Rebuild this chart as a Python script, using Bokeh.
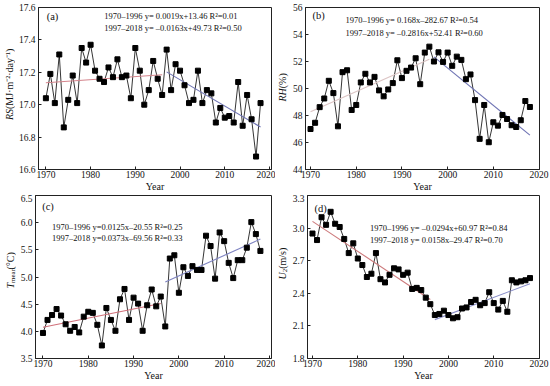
import numpy as np
from bokeh.plotting import figure
from bokeh.layouts import column, row
from bokeh.models import Range1d, FixedTicker, PrintfTickFormatter, Label
from bokeh.core.properties import value
from bokeh.embed import file_html
from bokeh.resources import INLINE

# ---------------- data ----------------
years = list(range(1970, 2019))
split_year = 1997

rs = [17.04, 17.19, 17.01, 17.31, 16.86, 17.03, 17.18, 17.01, 17.35, 17.26,
      17.37, 17.21, 17.16, 17.14, 17.23, 17.17, 17.28, 17.17, 17.18, 17.04,
      17.35, 17.21, 17.00, 17.09, 17.27, 17.16, 17.06, 17.34, 17.09, 17.25,
      17.21, 17.12, 17.01, 17.03, 17.21, 17.01, 17.09, 17.07, 16.89, 16.98,
      16.92, 16.93, 16.89, 17.14, 16.87, 17.06, 16.91, 16.68, 17.01]

rh = [47.00, 47.46, 48.62, 49.26, 50.57, 49.66, 47.20, 51.21, 51.35, 48.41,
      48.78, 50.45, 51.09, 50.45, 50.86, 49.86, 49.42, 49.93, 50.40, 52.09,
      50.77, 51.31, 51.55, 52.24, 50.32, 52.66, 53.10, 52.00, 52.68, 51.97,
      52.66, 51.68, 52.36, 52.12, 50.69, 51.04, 49.14, 46.27, 48.78, 46.02,
      47.50, 47.25, 48.04, 47.74, 47.28, 47.15, 47.65, 49.07, 48.63]

tmean = [3.97, 4.21, 4.30, 4.41, 4.29, 4.13, 4.01, 4.08, 3.98, 4.27,
         4.36, 4.34, 4.12, 3.74, 4.43, 4.21, 4.01, 4.59, 4.78, 4.21,
         4.62, 4.51, 4.01, 4.48, 4.77, 4.46, 4.64, 4.09, 5.34, 5.40,
         4.71, 5.18, 5.02, 5.20, 5.13, 5.13, 5.76, 5.57, 4.97, 5.82,
         5.66, 5.26, 4.98, 5.31, 5.31, 5.54, 6.01, 5.79, 5.48]

u2 = [2.95, 2.89, 3.10, 3.03, 3.15, 3.04, 3.01, 2.90, 2.77, 2.86,
      2.72, 2.66, 2.55, 2.58, 2.77, 2.53, 2.50, 2.57, 2.63, 2.62,
      2.57, 2.59, 2.44, 2.45, 2.43, 2.36, 2.30, 2.20, 2.21, 2.24,
      2.20, 2.17, 2.18, 2.26, 2.27, 2.32, 2.34, 2.29, 2.31, 2.41,
      2.31, 2.25, 2.33, 2.23, 2.52, 2.50, 2.51, 2.52, 2.54]

year_ticks = [1970, 1980, 1990, 2000, 2010, 2020]
rs_ticks = [16.6, 16.8, 17.0, 17.2, 17.4, 17.6]
rh_ticks = [44, 46, 48, 50, 52, 54, 56]
tm_ticks = [3.5, 4.0, 4.5, 5.0, 5.5, 6.0, 6.5]
u2_ticks = [1.8, 2.1, 2.4, 2.7, 3.0, 3.3]

eq_a = ["1970\u20131996  y= 0.0019x+13.46 R\u00b2=0.01",
        "1997\u20132018  y= \u20130.0163x+49.73 R\u00b2=0.50"]
eq_b = ["1970\u20131996  y= 0.168x\u2013282.67  R\u00b2=0.54",
        "1997\u20132018  y= \u20130.2816x+52.41 R\u00b2=0.60"]
eq_c = ["1970\u20131996  y=0.0125x\u201320.55 R\u00b2=0.25",
        "1997\u20132018  y=0.0373x\u201369.56 R\u00b2=0.33"]
eq_d = ["1970\u20131996  y= \u20130.0294x+60.97  R\u00b2=0.84",
        "1997\u20132018  y= 0.0158x\u201329.47   R\u00b2=0.70"]

FONT = "Liberation Serif"
INK = "#111111"


def panel(vals, ticks, fmt, width, height, mb_left, mb_right, mb_top, x_rng,
          tag, tag_xy, eqs, eq_x, eq_ys, red, blue):
    p = figure(width=width, height=height, output_backend="svg", toolbar_location=None,
               x_range=Range1d(*x_rng), y_range=Range1d(ticks[0], ticks[-1]),
               min_border_left=mb_left, min_border_right=mb_right,
               min_border_top=mb_top, min_border_bottom=24)
    p.grid.visible = False
    p.outline_line_color = "#222222"
    p.outline_line_width = 1
    p.xaxis.ticker = FixedTicker(ticks=year_ticks, minor_ticks=[])
    p.yaxis.ticker = FixedTicker(ticks=ticks, minor_ticks=[])
    p.yaxis.formatter = PrintfTickFormatter(format=fmt)
    for ax in (p.xaxis[0], p.yaxis[0]):
        ax.axis_line_color = "#222222"
        ax.major_tick_line_color = "#222222"
        ax.major_tick_in = 3
        ax.major_tick_out = 0
        ax.minor_tick_in = 0
        ax.minor_tick_out = 0
        ax.major_label_text_font = FONT
        ax.major_label_text_font_size = "9.5px"
        ax.major_label_text_color = INK
    p.xaxis.major_label_standoff = 1
    p.yaxis.major_label_standoff = 3
    p.xaxis.axis_label = "Year"
    p.xaxis.axis_label_text_font = FONT
    p.xaxis.axis_label_text_font_style = "normal"
    p.xaxis.axis_label_text_font_size = "10px"
    p.xaxis.axis_label_text_color = INK
    p.xaxis.axis_label_standoff = 0

    yrs = np.array(years, dtype=float)
    v = np.array(vals, dtype=float)
    p.line(yrs, v, line_color="black", line_width=0.8)
    m1 = yrs < split_year
    for mask, col in ((m1, red), (~m1, blue)):
        c = np.polyfit(yrs[mask], v[mask], 1)
        xs = np.array([yrs[mask].min(), yrs[mask].max()])
        p.line(xs, np.polyval(c, xs), line_color=col, line_width=1.1)
    p.scatter(yrs, v, marker="square", size=5, fill_color="black", line_color="black")

    p.add_layout(Label(x=tag_xy[0], y=tag_xy[1], text=tag, text_font=FONT,
                       text_font_size="10.5px", text_baseline="middle", text_color=INK))
    for txt, yy in zip(eqs, eq_ys):
        p.add_layout(Label(x=eq_x, y=yy, text=txt, text_font=FONT, text_font_size="8.5px",
                           text_baseline="middle", text_color=INK))
    return p


def ylabel_strip(width, height, cx, parts):
    """Narrow figure carrying a rotated, mixed-style axis title.
    parts: (text, style, size, screen_y_from_top, x_shift, align)"""
    s = figure(width=width, height=height, output_backend="svg", toolbar_location=None,
               x_range=Range1d(0, width), y_range=Range1d(0, height),
               x_axis_location=None, y_axis_location=None,
               min_border_left=0, min_border_right=0, min_border_top=0, min_border_bottom=0)
    s.grid.visible = False
    s.outline_line_color = None
    for txt, style, size, sy, dx, align in parts:
        s.text(x=[cx + dx], y=[height - sy], text=[txt], angle=np.pi / 2,
               text_align=align, text_baseline="middle", text_font=value(FONT),
               text_font_size=value(size), text_font_style=value(style), text_color=INK)
    return s


H1, H2 = 194, 189
COL1_X = (1968.35, 2020.45)
COL2_X = (1968.9, 2020.1)

la = ylabel_strip(15, H1, 9, [
    ("RS", "italic", "10px", 121.5, 0, "right"),
    ("(MJ\u00b7m\u207b\u00b2\u00b7day\u207b\u00b9)", "normal", "10px", 121.5, 0, "left")])
pa = panel(rs, rs_ticks, "%.1f", 260, H1, 20, 4, 7, COL1_X,
           "(a)", (1970.18, 17.547), eq_a, 1983.07, (17.545, 17.471),
           "#d4848c", "#6f74b4")

lb = ylabel_strip(14, H1, 6.5, [
    ("RH", "italic", "10px", 96.7, 0, "right"),
    ("(%)", "normal", "10px", 96.7, 0, "left")])
pb = panel(rh, rh_ticks, "%d", 260, H1, 14, 10, 7, COL2_X,
           "(b)", (1970.42, 55.41), eq_b, 1977.64, (55.04, 54.11),
           "#dcc4c4", "#6f74b4")

lc = ylabel_strip(16, H2, 9.5, [
    ("T", "italic", "10px", 101.4, 0, "right"),
    ("mean", "normal", "7px", 101.4, 2.5, "left"),
    ("(\u00b0C)", "normal", "10px", 85.9, 0, "left")])
pc = panel(tmean, tm_ticks, "%.1f", 259, H2, 19, 4, 1, COL1_X,
           "(c)", (1969.83, 6.293), eq_c, 1972.0, (5.927, 5.718),
           "#d0707a", "#7f84c2")

ld = ylabel_strip(14, H2, 6.5, [
    ("U", "italic", "10px", 89.0, 0, "right"),
    ("2", "normal", "7px", 89.0, 3, "left"),
    ("(m/s)", "normal", "10px", 85.0, 0, "left")])
pd_ = panel(u2, u2_ticks, "%.1f", 260, H2, 14, 10, 1, COL2_X,
            "(d)", (1970.42, 3.181), eq_d, 1982.72, (2.998, 2.891),
            "#cd7a7c", "#8a8ec8")

layout = column(row(la, pa, lb, pb), row(lc, pc, ld, pd_))
open("out.html", "w").write(file_html(layout, INLINE, title="chart"))
